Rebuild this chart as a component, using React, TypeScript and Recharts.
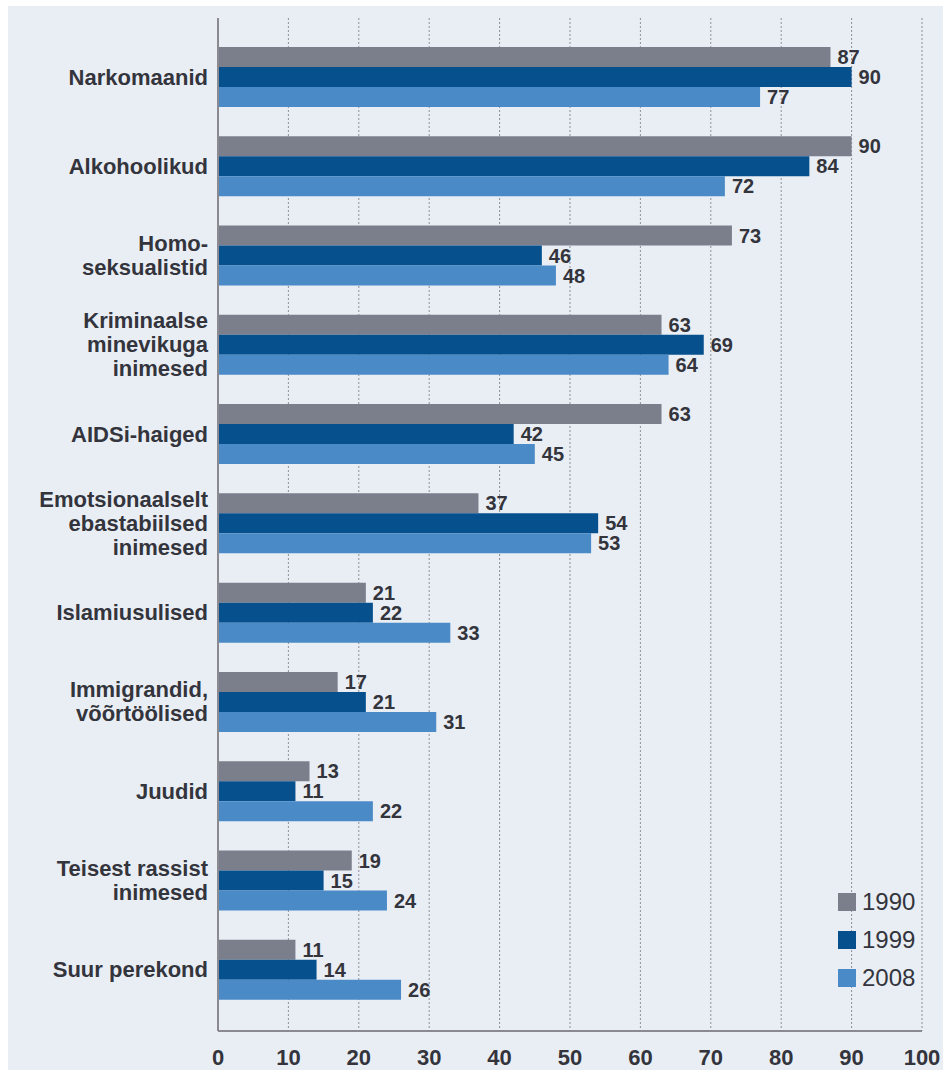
import React from 'react';
import { BarChart, Bar, XAxis, YAxis, CartesianGrid, Legend, LabelList } from 'recharts';

const categories = [
  'Narkomaanid',
  'Alkohoolikud',
  'Homo-\nseksualistid',
  'Kriminaalse\nminevikuga\ninimesed',
  'AIDSi-haiged',
  'Emotsionaalselt\nebastabiilsed\ninimesed',
  'Islamiusulised',
  'Immigrandid,\nvõõrtöölised',
  'Juudid',
  'Teisest rassist\ninimesed',
  'Suur perekond',
];

const values1990 = [87, 90, 73, 63, 63, 37, 21, 17, 13, 19, 11];
const values1999 = [90, 84, 46, 69, 42, 54, 22, 21, 11, 15, 14];
const values2008 = [77, 72, 48, 64, 45, 53, 33, 31, 22, 24, 26];

const xTicks = [0, 10, 20, 30, 40, 50, 60, 70, 80, 90, 100];

const data = categories.map((name, i) => ({
  name,
  y1990: values1990[i],
  y1999: values1999[i],
  y2008: values2008[i],
}));

const FONT = '"Liberation Sans", Arial, sans-serif';
const TEXT = '#33343c';

const CategoryTick = (props: any) => {
  const { x, y, payload } = props;
  const lines: string[] = String(payload.value).split('\n');
  const lh = 24;
  const start = y - ((lines.length - 1) * lh) / 2;
  return (
    <text
      x={x}
      y={start}
      textAnchor="end"
      fill={TEXT}
      fontSize={22}
      fontWeight="bold"
      fontFamily={FONT}
    >
      {lines.map((l, i) => (
        <tspan key={i} x={x} y={start + i * lh} dy="0.36em">
          {l}
        </tspan>
      ))}
    </text>
  );
};

const LegendBox = (props: any) => {
  const { payload } = props;
  return (
    <div style={{ fontFamily: FONT }}>
      {(payload || []).map((p: any) => (
        <div
          key={p.value}
          style={{ display: 'flex', alignItems: 'center', height: 38 }}
        >
          <span
            style={{ width: 18, height: 18, background: p.color, marginRight: 6, display: 'inline-block' }}
          />
          <span style={{ fontSize: 24, color: TEXT }}>{p.value}</span>
        </div>
      ))}
    </div>
  );
};

const labelStyle = { fontSize: 20, fontWeight: 'bold', fill: TEXT, fontFamily: FONT };

export default function App() {
  return (
    <div style={{ position: 'absolute', left: 0, top: 0, width: 943, height: 1070, background: '#ffffff' }}>
      <div style={{ position: 'absolute', left: 8, top: 6, right: 0, bottom: 0, background: '#e9eef5' }} />
      <div style={{ position: 'absolute', left: 0, top: 0 }}>
        <BarChart
          width={943}
          height={1070}
          data={data}
          layout="vertical"
          margin={{ top: 18, right: 21, bottom: 0, left: 0 }}
          barSize={20}
          barGap={0}
        >
          <CartesianGrid horizontal={false} stroke="#8e8e96" strokeDasharray="2 2" />
          <XAxis
            type="number"
            domain={[0, 100]}
            ticks={xTicks}
            height={39}
            tickLine={false}
            tickSize={0}
            tickMargin={18}
            axisLine={{ stroke: '#8a8a90', strokeWidth: 2 }}
            tick={{ fontSize: 22, fontWeight: 'bold', fill: TEXT, fontFamily: FONT }}
            interval={0}
          />
          <YAxis
            type="category"
            dataKey="name"
            width={218}
            padding={{ top: 14, bottom: 17 }}
            tickLine={false}
            tickSize={0}
            tickMargin={10}
            axisLine={{ stroke: '#8a8a90', strokeWidth: 2 }}
            tick={<CategoryTick />}
            interval={0}
          />
          <Legend
            layout="vertical"
            align="center"
            verticalAlign="middle"
            content={<LegendBox />}
            wrapperStyle={{ left: 838, top: 883, width: 100 }}
          />
          <Bar dataKey="y1990" name="1990" fill="#7b7f8b" isAnimationActive={false}>
            <LabelList dataKey="y1990" position="right" offset={7} style={labelStyle} />
          </Bar>
          <Bar dataKey="y1999" name="1999" fill="#06508e" isAnimationActive={false}>
            <LabelList dataKey="y1999" position="right" offset={7} style={labelStyle} />
          </Bar>
          <Bar dataKey="y2008" name="2008" fill="#4a8ac7" isAnimationActive={false}>
            <LabelList dataKey="y2008" position="right" offset={7} style={labelStyle} />
          </Bar>
        </BarChart>
      </div>
    </div>
  );
}
